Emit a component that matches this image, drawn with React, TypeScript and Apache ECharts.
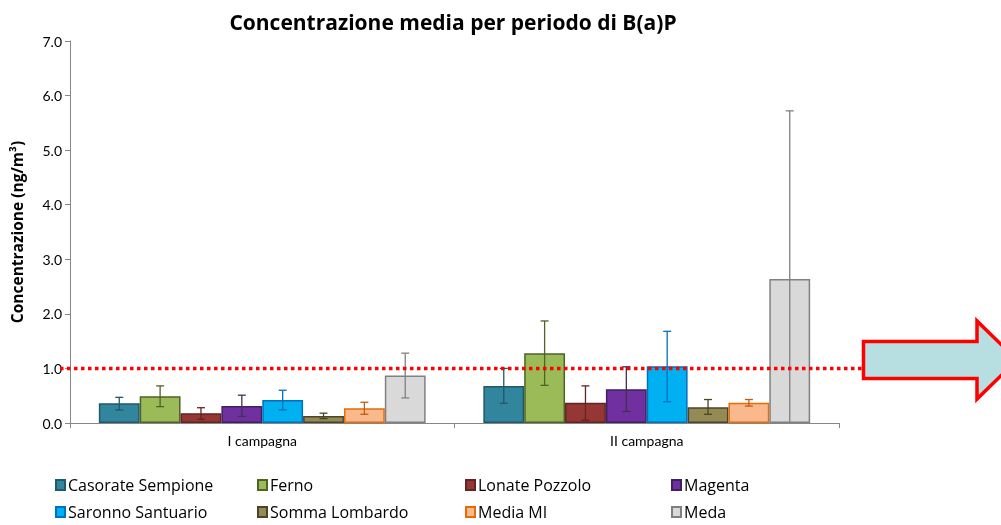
import React, { useEffect, useRef } from "react";
import * as echarts from "echarts";

const categories = ["I campagna", "II campagna"];
const stations = [
  "Casorate Sempione",
  "Ferno",
  "Lonate Pozzolo",
  "Magenta",
  "Saronno Santuario",
  "Somma Lombardo",
  "Media MI",
  "Meda",
];
const means = [
  [0.36, 0.68],
  [0.49, 1.28],
  [0.18, 0.37],
  [0.31, 0.62],
  [0.42, 1.04],
  [0.13, 0.29],
  [0.27, 0.37],
  [0.87, 2.64],
];
const errLow = [
  [0.24, 0.36],
  [0.3, 0.69],
  [0.07, 0.05],
  [0.12, 0.21],
  [0.24, 0.39],
  [0.08, 0.16],
  [0.16, 0.31],
  [0.46, -0.44],
];
const errHigh = [
  [0.47, 1.0],
  [0.68, 1.87],
  [0.28, 0.68],
  [0.51, 1.03],
  [0.6, 1.68],
  [0.18, 0.43],
  [0.38, 0.43],
  [1.28, 5.72],
];
const yTicks = [0, 1, 2, 3, 4, 5, 6, 7];
const threshold = 1.0;

const fills = ["#31859C", "#9BBB59", "#953735", "#7030A0", "#00B0F0", "#948A54", "#F9B98C", "#D9D9D9"];
const borders = ["#215968", "#4F6228", "#632523", "#3F2060", "#0070C0", "#4A452A", "#E46C0A", "#808080"];
const errColors = ["#215968", "#4F6228", "#632523", "#403152", "#0070C0", "#4A452A", "#C55A11", "#808080"];

const legendCols = [55, 257, 465, 671];
const legendRows = [477, 504];

const FONT = "Lato";
const FONT2 = "Open Sans";

export default function App() {
  const ref = useRef<HTMLDivElement>(null);
  useEffect(() => {
    if (!ref.current) return;
    const chart = echarts.init(ref.current, null, { renderer: "svg" });
    const n = stations.length;
    const gapFrac = 0.15;

    const barSeries = stations.map((s, i) => ({
      name: s,
      type: "bar",
      data: means[i],
      barGap: "0%",
      barCategoryGap: "15%",
      itemStyle: { color: fills[i], borderColor: borders[i], borderWidth: 1.5 },
      emphasis: { disabled: true },
    }));

    const errSeries = stations.map((s, i) => ({
      name: s + " err",
      type: "custom",
      clip: true,
      data: categories.map((_, c) => [c, errLow[i][c], errHigh[i][c]]),
      encode: { x: 0, y: [1, 2] },
      z: 5,
      renderItem: (params: any, api: any) => {
        const cat = api.value(0);
        const lo = api.value(1);
        const hi = api.value(2);
        const bw = api.size([1, 0])[0];
        const base = api.coord([cat, 0]);
        const span = bw * (1 - gapFrac);
        const x = base[0] - span / 2 + ((i + 0.5) * span) / n;
        const yLo = api.coord([cat, lo])[1];
        const yHi = api.coord([cat, hi])[1];
        const cap = 4;
        const st = { stroke: errColors[i], lineWidth: 1.3 };
        return {
          type: "group",
          children: [
            { type: "line", shape: { x1: x, y1: yLo, x2: x, y2: yHi }, style: st },
            { type: "line", shape: { x1: x - cap, y1: yHi, x2: x + cap, y2: yHi }, style: st },
            { type: "line", shape: { x1: x - cap, y1: yLo, x2: x + cap, y2: yLo }, style: st },
          ],
        };
      },
    }));

    const legends = stations.map((s, i) => ({
      data: [s],
      left: legendCols[i % 4],
      top: legendRows[Math.floor(i / 4)],
      padding: 0,
      itemWidth: 9,
      itemHeight: 10,
      icon: "rect",
      textStyle: { fontFamily: FONT2, fontSize: 16, lineHeight: 16, color: "#000", padding: [0, 0, 0, -2] },
    }));

    chart.setOption({
      animation: false,
      title: {
        text: "Concentrazione media per periodo di B(a)P",
        left: 448,
        top: 6,
        textAlign: "center",
        textStyle: { fontFamily: FONT2, fontSize: 21, fontWeight: "bold", color: "#000" },
      },
      grid: { left: 70, right: 162, top: 41, bottom: 102, containLabel: false },
      legend: legends,
      xAxis: {
        type: "category",
        data: categories,
        axisLine: { lineStyle: { color: "#868686", width: 1 } },
        axisTick: { show: true, length: 5, lineStyle: { color: "#868686" } },
        axisLabel: { fontFamily: FONT, fontSize: 14, color: "#000", margin: 10 },
      },
      yAxis: {
        type: "value",
        min: 0,
        max: yTicks[yTicks.length - 1],
        interval: 1,
        name: "Concentrazione (ng/m³)",
        nameLocation: "middle",
        nameRotate: 90,
        nameGap: 45,
        nameTextStyle: { fontFamily: FONT2, fontSize: 15.5, fontWeight: "bold", color: "#000" },
        axisLine: { show: true, lineStyle: { color: "#868686", width: 1 } },
        axisTick: { show: true, length: 5, lineStyle: { color: "#868686" } },
        splitLine: { show: false },
        axisLabel: { fontFamily: FONT, fontSize: 14, color: "#000", margin: 8, formatter: (v: number) => v.toFixed(1) },
      },
      series: [...barSeries, ...errSeries],
    });

    const yLine = chart.convertToPixel({ yAxisIndex: 0 }, threshold) as number;
    chart.setOption({
      graphic: [
        {
          type: "line",
          z: 10,
          shape: { x1: 60, y1: yLine, x2: 877, y2: yLine },
          style: { stroke: "#FF0000", lineWidth: 3.5, lineDash: [3.5, 3.5] },
        },
        {
          type: "polygon",
          z: 11,
          shape: {
            points: [
              [863.5, 341.5],
              [977, 341.5],
              [977, 321],
              [1017, 360],
              [977, 399],
              [977, 378.5],
              [863.5, 378.5],
            ],
          },
          style: { fill: "#B7DEE0", stroke: "#FF0000", lineWidth: 3.5 },
        },
      ],
    });

    return () => chart.dispose();
  }, []);
  return <div ref={ref} style={{ position: "fixed", left: 0, top: 0, width: 1001, height: 525 }} />;
}
